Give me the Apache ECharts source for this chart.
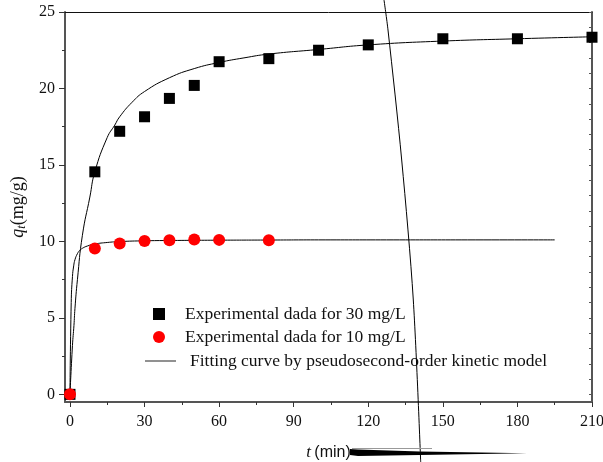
<!DOCTYPE html>
<html>
<head>
<meta charset="utf-8">
<script src="https://cdn.jsdelivr.net/npm/echarts@6/dist/echarts.min.js"></script>
<style>
  html, body { margin: 0; padding: 0; background: #fff; }
  #kinetic-chart { width: 603px; height: 462px; }
</style>
</head>
<body>
<div id="kinetic-chart"></div>
<script>
// experimental points (t in min, qt in mg/g)
var t30 = [0, 10, 20, 30, 40, 50, 60, 80, 100, 120, 150, 180, 210];
var q30 = [0, 14.55, 17.2, 18.15, 19.35, 20.2, 21.75, 21.95, 22.5, 22.85, 23.25, 23.25, 23.35];
var t10 = [0, 10, 20, 30, 40, 50, 60, 80];
var q10 = [0, 9.53, 9.86, 10.03, 10.08, 10.12, 10.1, 10.08];

// fitted curves
var fitT30 = [0, 1, 1.6, 2, 3, 5, 8, 10, 15, 18, 20, 25, 30, 40, 50, 60, 70, 80, 100, 120, 150, 180, 210];
var fitQ30 = [0, 3.2, 4.5, 5.6, 7.5, 10.4, 12.9, 14.55, 16.8, 17.6, 18.15, 19.1, 19.8, 20.7, 21.3, 21.7, 22.0, 22.25, 22.55, 22.85, 23.1, 23.25, 23.38];
var fitT10 = [0, 0.5, 1, 1.5, 2, 3, 4, 5, 7, 10, 15, 20, 30, 40, 60, 80, 100, 130, 160, 195];
var fitQ10 = [0, 6.0, 7.7, 8.4, 8.8, 9.2, 9.42, 9.55, 9.7, 9.83, 9.93, 9.99, 10.04, 10.06, 10.08, 10.09, 10.1, 10.1, 10.1, 10.1];

var xLabels = [0, 30, 60, 90, 120, 150, 180, 210];
var xMinor = [15, 45, 75, 105, 135, 165, 195];
var yLabels = [0, 5, 10, 15, 20, 25];
var yMinor = [2.5, 7.5, 12.5, 17.5, 22.5];
var yRight = [0,1,2,3,4,5,6,7,8,9,10,11,12,13,14,15,16,17,18,19,20,21,22,23,24,25];

var name30 = 'Experimental dada for 30 mg/L';
var name10 = 'Experimental dada for 10 mg/L';
var nameFit = 'Fitting curve by pseudosecond-order kinetic model';

function pairs(xs, ys) {
  return xs.map(function (x, i) { return [x, ys[i]]; });
}

var serif = 'Liberation Serif, Times New Roman, serif';

var chart = echarts.init(document.getElementById('kinetic-chart'));
var option = {
  animation: false,
  grid: { left: 65, right: 11, top: 12, bottom: 60, outerBoundsMode: 'none' },
  legend: [
    {
      orient: 'vertical',
      left: 148, top: 300,
      itemWidth: 12, itemHeight: 12, itemGap: 5,
      textStyle: { fontFamily: serif, fontSize: 17.5, color: '#111', padding: [0, 0, 0, 15] },
      data: [{ name: name30, icon: 'rect' }, { name: name10, icon: 'circle' }]
    },
    {
      left: 140, top: 347,
      itemWidth: 31, itemHeight: 1,
      textStyle: { fontFamily: serif, fontSize: 17.5, color: '#111', padding: [0, 0, 0, 9] },
      data: [{ name: nameFit, icon: 'rect', itemStyle: { color: '#222' } }]
    }
  ],
  xAxis: [
    {
      type: 'value', min: -2, max: 210,
      name: '{i|t} {n|(min)}',
      nameLocation: 'middle', nameGap: 42,
      nameTextStyle: {
        rich: {
          i: { fontFamily: serif, fontStyle: 'italic', fontSize: 17, color: '#111' },
          n: { fontFamily: 'Liberation Sans, Arial, sans-serif', fontSize: 16, color: '#111' }
        }
      },
      axisLine: { onZero: false, lineStyle: { color: '#555', width: 2 } },
      axisTick: { show: true, length: 5, customValues: xLabels, lineStyle: { color: '#333' } },
      axisLabel: { customValues: xLabels, margin: 12, fontFamily: serif, fontSize: 16, color: '#111' },
      splitLine: { show: false }
    },
    {
      type: 'value', min: -2, max: 210, position: 'bottom',
      axisLine: { show: false, onZero: false },
      axisTick: { show: true, length: 3, customValues: xMinor, lineStyle: { color: '#333' } },
      axisLabel: { show: false },
      splitLine: { show: false }
    },
    {
      type: 'value', min: -2, max: 210, position: 'top',
      axisLine: { show: true, onZero: false, lineStyle: { color: '#111', width: 1 } },
      axisTick: { show: false },
      axisLabel: { show: false },
      splitLine: { show: false }
    }
  ],
  yAxis: [
    {
      type: 'value', min: -0.5, max: 25,
      name: '{i|q}{s|t}{n|(mg/g)}',
      nameLocation: 'middle', nameGap: 37, nameRotate: 90,
      nameTextStyle: {
        rich: {
          i: { fontFamily: serif, fontStyle: 'italic', fontSize: 18, color: '#111' },
          s: { fontFamily: serif, fontStyle: 'italic', fontSize: 12, color: '#111', padding: [8, 0, 0, 0] },
          n: { fontFamily: serif, fontSize: 18, color: '#111' }
        }
      },
      axisLine: { show: true, onZero: false, lineStyle: { color: '#555', width: 2 } },
      axisTick: { show: true, length: 6, customValues: yLabels, lineStyle: { color: '#333' } },
      axisLabel: { customValues: yLabels, margin: 10, fontFamily: serif, fontSize: 16, color: '#111' },
      splitLine: { show: false }
    },
    {
      type: 'value', min: -0.5, max: 25, position: 'left',
      axisLine: { show: false, onZero: false },
      axisTick: { show: true, length: 3, customValues: yMinor, lineStyle: { color: '#333' } },
      axisLabel: { show: false },
      splitLine: { show: false }
    },
    {
      type: 'value', min: -0.5, max: 25, position: 'right',
      axisLine: { show: true, onZero: false, lineStyle: { color: '#555', width: 2 } },
      axisTick: { show: true, inside: true, length: 3, customValues: yRight, lineStyle: { color: '#555' } },
      axisLabel: { show: false },
      splitLine: { show: false }
    }
  ],
  series: [
    {
      name: nameFit, type: 'line', smooth: true, symbol: 'none',
      lineStyle: { color: '#000', width: 1 }, itemStyle: { color: '#000' },
      data: pairs(fitT30, fitQ30), z: 2
    },
    {
      name: nameFit, type: 'line', smooth: true, symbol: 'none',
      lineStyle: { color: '#000', width: 1 }, itemStyle: { color: '#000' },
      data: pairs(fitT10, fitQ10), z: 2
    },
    {
      name: name30, type: 'scatter', symbol: 'rect', symbolSize: 11,
      itemStyle: { color: '#000', opacity: 1 }, data: pairs(t30, q30), z: 3
    },
    {
      name: name10, type: 'scatter', symbol: 'circle', symbolSize: 12,
      itemStyle: { color: '#ff0000', opacity: 1 }, data: pairs(t10, q10), z: 3
    }
  ],
  // stray strokes present on the original scan
  graphic: [
    {
      type: 'polyline', z: 100,
      shape: { points: [[384, 0], [388, 30], [401.7, 160], [413.3, 300], [420.7, 462]], smooth: 0.3 },
      style: { stroke: '#000', lineWidth: 1, fill: null }
    },
    {
      type: 'polygon', z: 100,
      shape: { points: [[350, 449], [358, 449.5], [420, 451.5], [527, 453.3], [420, 455], [358, 456], [350, 455]] },
      style: { fill: '#000' }
    },
    {
      type: 'line', z: 100,
      shape: { x1: 352, y1: 448.5, x2: 432, y2: 448.5 },
      style: { stroke: '#999', lineWidth: 1 }
    }
  ]
};
chart.setOption(option);
</script>
</body>
</html>
